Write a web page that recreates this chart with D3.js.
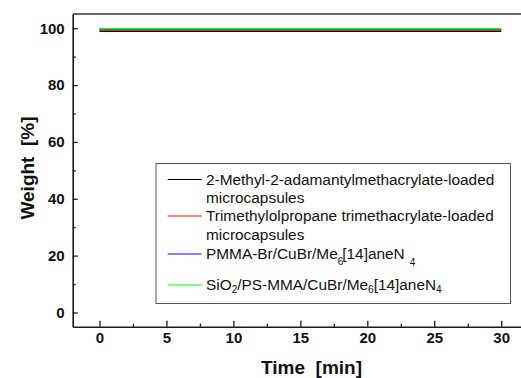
<!DOCTYPE html>
<html>
<head>
<meta charset="utf-8">
<script src="https://cdn.jsdelivr.net/npm/d3@7"></script>
<style>
  html, body { margin: 0; padding: 0; background: #fff; }
  svg { display: block; font-family: "Liberation Sans", Arial, Helvetica, sans-serif; }
</style>
</head>
<body>
<svg id="chart" width="521" height="378"></svg>
<script>
// Thermogravimetric stability over 30 min
const timeMin = [0, 5, 10, 15, 20, 25, 30];
const weightAdamantyl = [98.9, 98.9, 98.9, 98.9, 98.9, 98.9, 98.9];
const weightTrimethylol = [99.4, 99.4, 99.4, 99.4, 99.4, 99.4, 99.4];
const weightPMMA = [99.8, 99.8, 99.8, 99.8, 99.8, 99.8, 99.8];
const weightSiO2 = [99.8, 99.8, 99.8, 99.8, 99.8, 99.8, 99.8];
const seriesColors = ["#000000", "#ff0000", "#0000ff", "#00ff00"];
const xTickValues = [0, 5, 10, 15, 20, 25, 30];
const xMinorTicks = [2.5, 7.5, 12.5, 17.5, 22.5, 27.5];
const yTickValues = [0, 20, 40, 60, 80, 100];
const yMinorTicks = [10, 30, 50, 70, 90];

const svg = d3.select("#chart");
const plotLeft = 72.7, plotRight = 528, plotTop = 14, plotBottom = 326.7;

const x = d3.scaleLinear().domain([-2, 32]).range([plotLeft, plotRight]);
const y = d3.scaleLinear().domain([-5, 105]).range([plotBottom, plotTop]);

const axisColor = "#1a1a1a";

// frame: top edge and right edge (the right edge sits just past the canvas)
svg.append("line")
  .attr("x1", plotLeft).attr("x2", plotRight).attr("y1", plotTop).attr("y2", plotTop)
  .attr("stroke", "#333").attr("stroke-width", 1.5);
svg.append("line")
  .attr("x1", plotRight).attr("x2", plotRight).attr("y1", plotTop).attr("y2", plotBottom)
  .attr("stroke", "#333").attr("stroke-width", 1.5);

function styleAxis(g) {
  g.select(".domain").attr("stroke", axisColor).attr("stroke-width", 1.6);
  g.selectAll(".tick line").attr("stroke", axisColor).attr("stroke-width", 1.3);
  g.selectAll("text")
    .attr("fill", "#111")
    .attr("font-size", 15)
    .attr("font-weight", "bold")
    .attr("font-family", "'Liberation Sans', Arial, sans-serif");
}

// y axis, ticks pointing inward
const gy = svg.append("g").attr("transform", `translate(${plotLeft},0)`)
  .call(d3.axisLeft(y).tickValues(yTickValues).tickSizeInner(-5).tickSizeOuter(0).tickPadding(8));
styleAxis(gy);
const gy2 = svg.append("g").attr("transform", `translate(${plotLeft},0)`)
  .call(d3.axisLeft(y).tickValues(yMinorTicks).tickSizeInner(-3).tickSizeOuter(0).tickFormat(""));
styleAxis(gy2);
gy2.select(".domain").remove();

// x axis
const gx = svg.append("g").attr("transform", `translate(0,${plotBottom})`)
  .call(d3.axisBottom(x).tickValues(xTickValues).tickSizeInner(-6).tickSizeOuter(0).tickPadding(6));
styleAxis(gx);
const gx2 = svg.append("g").attr("transform", `translate(0,${plotBottom})`)
  .call(d3.axisBottom(x).tickValues(xMinorTicks).tickSizeInner(-3).tickSizeOuter(0).tickFormat(""));
styleAxis(gx2);
gx2.select(".domain").remove();

// axis titles
svg.append("text")
  .attr("x", 311.5).attr("y", 374)
  .attr("text-anchor", "middle")
  .attr("font-size", 19).attr("font-weight", "bold").attr("fill", "#111")
  .style("white-space", "pre")
  .text("Time  [min]");

svg.append("text")
  .attr("transform", "translate(34,168) rotate(-90)")
  .attr("text-anchor", "middle")
  .attr("font-size", 19).attr("font-weight", "bold").attr("fill", "#111")
  .style("white-space", "pre")
  .text("Weight  [%]");

// data lines
const allSeries = [weightAdamantyl, weightTrimethylol, weightPMMA, weightSiO2];
const line = d3.line().x((d, i) => x(timeMin[i])).y(d => y(d));
allSeries.forEach((vals, k) => {
  svg.append("path")
    .datum(vals)
    .attr("d", line)
    .attr("fill", "none")
    .attr("stroke", seriesColors[k])
    .attr("stroke-width", 1.5);
});

// legend
const lg = svg.append("g");
lg.append("rect")
  .attr("x", 156).attr("y", 163.5).attr("width", 354.5).attr("height", 140)
  .attr("fill", "#fff").attr("stroke", "#555").attr("stroke-width", 1);

const lx1 = 167.7, lx2 = 201.7, tx = 206;
const lineYs = [179.5, 216, 254, 285];
lineYs.forEach((ly, k) => {
  lg.append("line")
    .attr("x1", lx1).attr("x2", lx2).attr("y1", ly).attr("y2", ly)
    .attr("stroke", seriesColors[k]).attr("stroke-width", 1.1);
});

const fs = 15.4;
function legendText(yb) {
  return lg.append("text").attr("x", tx).attr("y", yb)
    .attr("font-size", fs).attr("fill", "#111");
}
legendText(184.5).text("2-Methyl-2-adamantylmethacrylate-loaded");
legendText(203).text("microcapsules");
legendText(221).text("Trimethylolpropane trimethacrylate-loaded");
legendText(239.5).text("microcapsules");

const t5 = legendText(258.5);
t5.append("tspan").text("PMMA-Br/CuBr/Me");
t5.append("tspan").attr("dy", 6).attr("font-size", 10).text("6");
t5.append("tspan").attr("dy", -6).attr("dx", -1).text("[14]aneN");
t5.append("tspan").attr("dy", 7).attr("dx", 5).attr("font-size", 10).text("4");

const t6 = legendText(289.5);
t6.append("tspan").text("SiO");
t6.append("tspan").attr("dy", 3).attr("font-size", 10).text("2");
t6.append("tspan").attr("dy", -3).text("/PS-MMA/CuBr/Me");
t6.append("tspan").attr("dy", 3).attr("font-size", 10).text("6");
t6.append("tspan").attr("dy", -3).text("[14]aneN");
t6.append("tspan").attr("dy", 3).attr("font-size", 10).text("4");
</script>
</body>
</html>
